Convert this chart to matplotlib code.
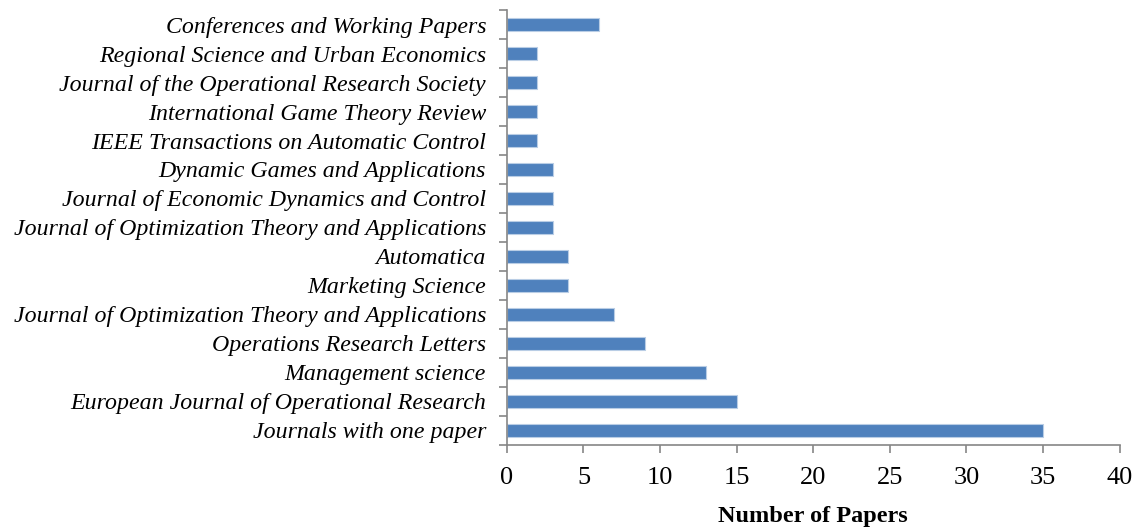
import matplotlib.pyplot as plt
import numpy as np

journals = [
    "Journals with one paper",
    "European Journal of Operational Research",
    "Management science",
    "Operations Research Letters",
    "Journal of Optimization Theory and Applications",
    "Marketing Science",
    "Automatica",
    "Journal of Optimization Theory and Applications",
    "Journal of Economic Dynamics and Control",
    "Dynamic Games and Applications",
    "IEEE Transactions on Automatic Control",
    "International Game Theory Review",
    "Journal of the Operational Research Society",
    "Regional Science and Urban Economics",
    "Conferences and Working Papers",
]
papers = [35, 15, 13, 9, 7, 4, 4, 3, 3, 3, 2, 2, 2, 2, 6]
x_ticks = [0, 5, 10, 15, 20, 25, 30, 35, 40]

fig = plt.figure(figsize=(11.39, 5.29), dpi=100)
ax = fig.add_axes([0.445, 0.159, 0.538, 0.822])

pos = np.arange(len(journals))
ax.barh(pos, papers, height=0.45, color='#4F81BD', edgecolor='#B9CDE5', linewidth=0.8)

ax.set_xlim(0, 40)
ax.set_ylim(-0.5, len(journals) - 0.5)
ax.set_xticks(x_ticks)
ax.set_xticklabels([str(t) for t in x_ticks], fontsize=19, family='Liberation Serif')
ax.set_yticks(pos)
ax.set_yticklabels(journals, fontsize=17.2, family='Liberation Serif', style='italic')
ax.set_yticks(np.arange(len(journals) + 1) - 0.5, minor=True)
ax.tick_params(axis='y', which='major', length=0, pad=15)
ax.tick_params(axis='y', which='minor', length=6, color='#868686', width=1.2)
ax.tick_params(axis='x', length=6, color='#868686', width=1.2, pad=10)

for side in ['top', 'right']:
    ax.spines[side].set_visible(False)
for side in ['left', 'bottom']:
    ax.spines[side].set_color('#868686')
    ax.spines[side].set_linewidth(1.2)

ax.set_xlabel('Number of Papers', fontsize=17.5, family='Liberation Serif', fontweight='bold')
ax.xaxis.set_label_coords(0.5, -0.14)

fig.savefig('out.png', dpi=100)
